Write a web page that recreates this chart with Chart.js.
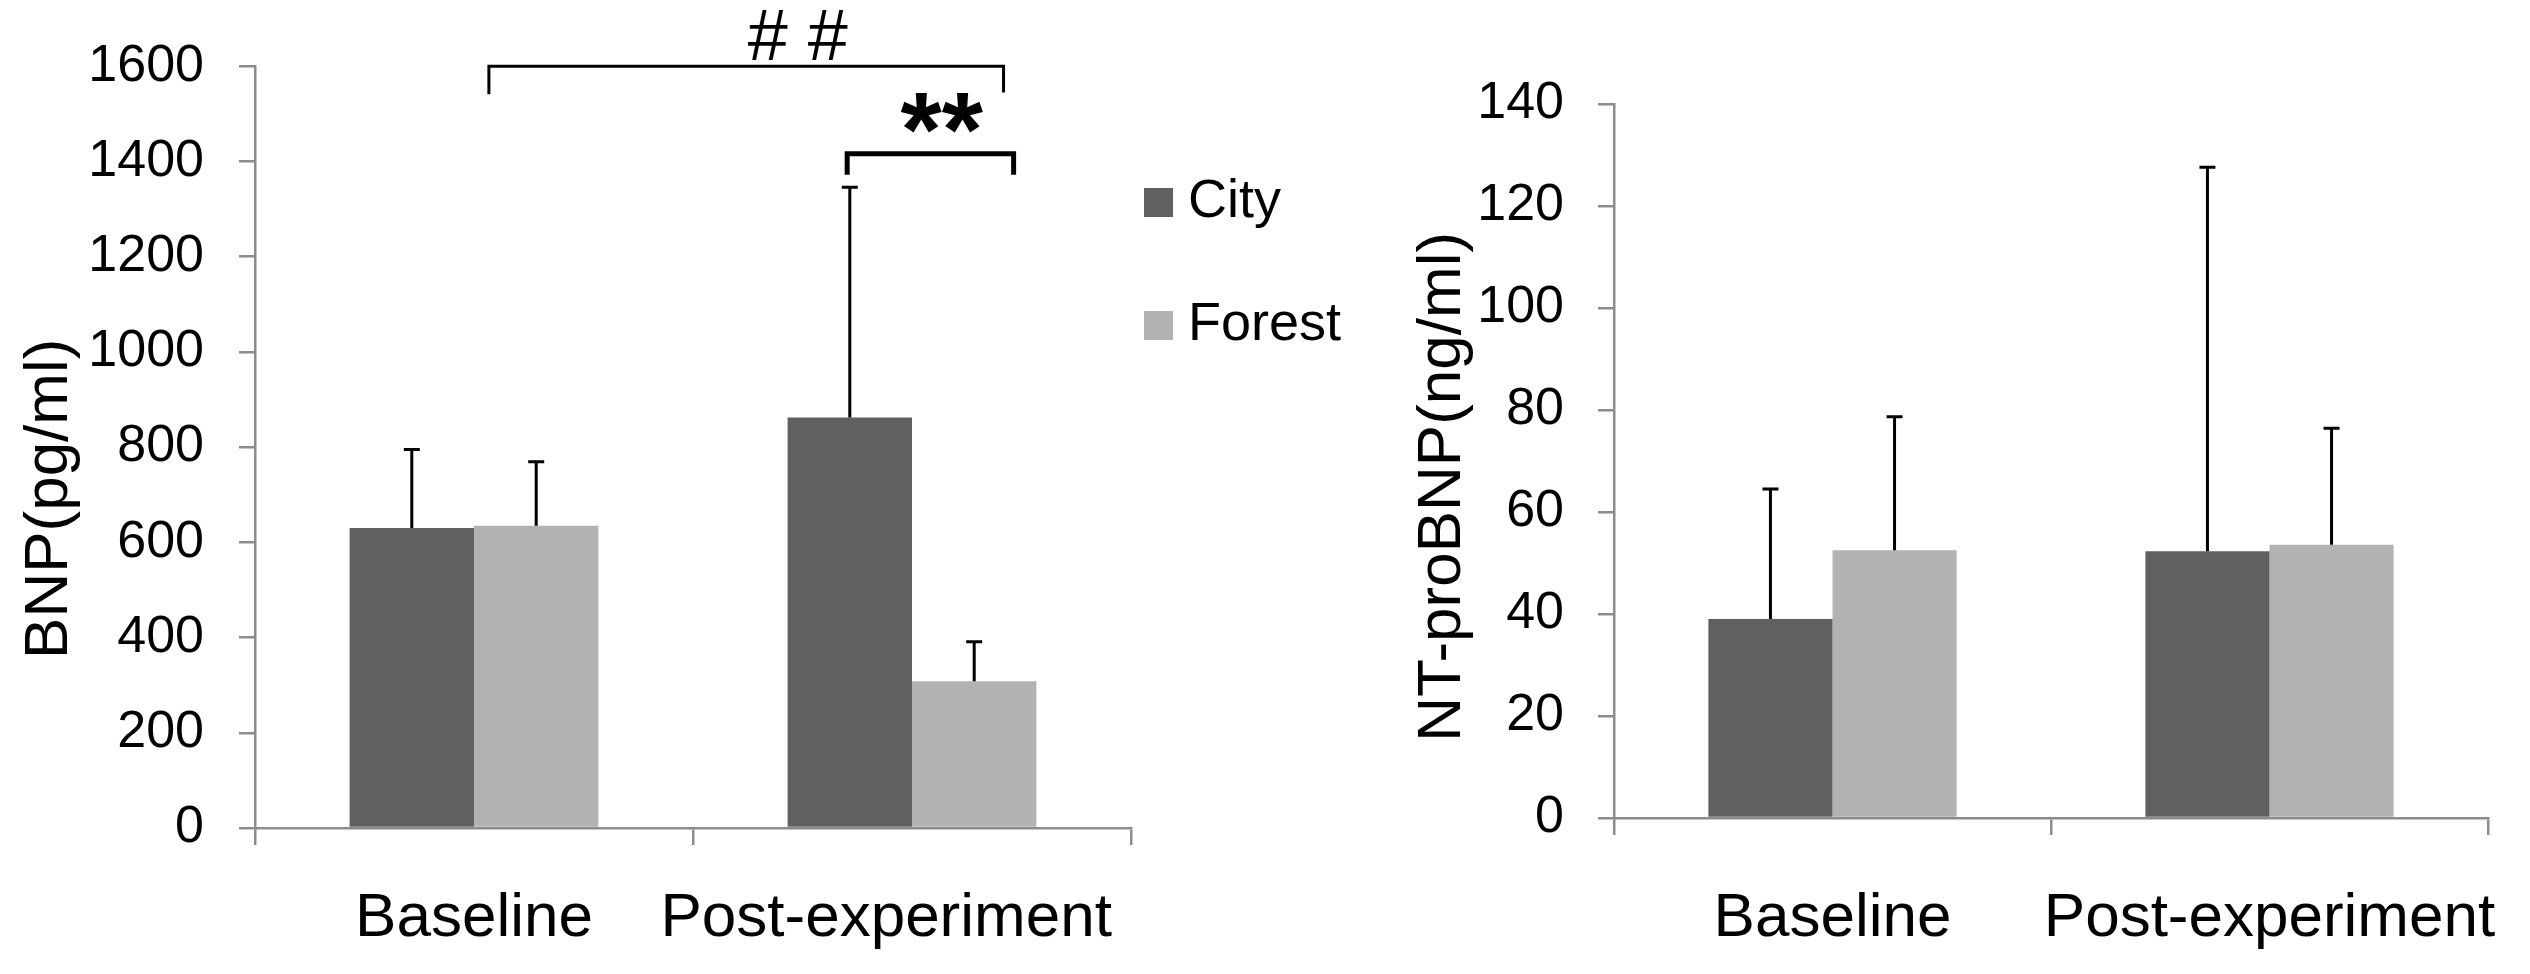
<!DOCTYPE html>
<html>
<head>
<meta charset="utf-8">
<script src="https://cdn.jsdelivr.net/npm/chart.js@4.4.1/dist/chart.umd.min.js"></script>
<style>
  html, body { margin: 0; padding: 0; background: #fff; }
  body { width: 2530px; height: 974px; position: relative; overflow: hidden; }
  .panel { position: absolute; top: 0; height: 974px; }
  #bnpWrap { left: 0; width: 1400px; }
  #ntWrap { left: 1400px; width: 1130px; }
</style>
</head>
<body>
<div class="panel" id="bnpWrap"><canvas id="bnpChart"></canvas></div>
<div class="panel" id="ntWrap"><canvas id="ntChart"></canvas></div>
<script>
// data
const categories = ["Baseline", "Post-experiment"];
const groups = ["City", "Forest"];

const bnpCity = [630, 862];
const bnpForest = [635, 308];
const bnpCityErr = [165, 484];
const bnpForestErr = [134, 83];
const bnpTicks = [0, 200, 400, 600, 800, 1000, 1200, 1400, 1600];

const ntCity = [39.0, 52.3];
const ntForest = [52.5, 53.6];
const ntCityErr = [25.5, 75.3];
const ntForestErr = [26.2, 22.8];
const ntTicks = [0, 20, 40, 60, 80, 100, 120, 140];

const cityColor = "#606060";
const forestColor = "#b2b2b2";
const axisColor = "#8c8c8c";

Chart.defaults.font.family = "'Liberation Sans', Arial, sans-serif";
Chart.defaults.color = "#000";

// vertical error bars with a small cap, drawn from the dataset's errors
const errorBars = {
  id: "errorBars",
  afterDatasetsDraw(chart, args, opts) {
    const ctx = chart.ctx;
    const y = chart.scales.y;
    ctx.save();
    ctx.strokeStyle = "#000";
    ctx.lineWidth = opts.width;
    chart.data.datasets.forEach((ds, i) => {
      chart.getDatasetMeta(i).data.forEach((bar, j) => {
        const top = y.getPixelForValue(ds.data[j] + ds.errors[j]);
        ctx.beginPath();
        ctx.moveTo(bar.x, bar.y);
        ctx.lineTo(bar.x, top);
        ctx.moveTo(bar.x - opts.cap, top);
        ctx.lineTo(bar.x + opts.cap, top);
        ctx.stroke();
      });
    });
    ctx.restore();
  }
};

// significance brackets, placed in axis units
const brackets = {
  id: "brackets",
  afterDraw(chart, args, opts) {
    const { ctx, scales: { x, y } } = chart;
    (opts.items || []).forEach(b => {
      const x1 = x.getPixelForValue(b.from);
      const x2 = x.getPixelForValue(b.to);
      const yb = y.getPixelForValue(b.at);
      ctx.save();
      ctx.strokeStyle = "#000";
      ctx.lineWidth = b.lineWidth;
      ctx.beginPath();
      ctx.moveTo(x1, y.getPixelForValue(b.dropFrom));
      ctx.lineTo(x1, yb);
      ctx.lineTo(x2, yb);
      ctx.lineTo(x2, y.getPixelForValue(b.dropTo));
      ctx.stroke();
      ctx.fillStyle = "#000";
      ctx.font = b.font;
      ctx.textAlign = "center";
      ctx.textBaseline = "alphabetic";
      ctx.fillText(b.text, x.getPixelForValue(b.textAt), y.getPixelForValue(b.textY));
      ctx.restore();
    });
  }
};

// legend to the right of the first panel
const sideLegend = {
  id: "sideLegend",
  afterDraw(chart, args, opts) {
    if (!opts.show) return;
    const ctx = chart.ctx;
    ctx.save();
    chart.data.datasets.forEach((ds, i) => {
      const top = opts.top + i * opts.gap;
      ctx.fillStyle = ds.backgroundColor;
      ctx.fillRect(opts.left, top, opts.box, opts.box);
      ctx.fillStyle = "#000";
      ctx.font = opts.font;
      ctx.textAlign = "left";
      ctx.textBaseline = "middle";
      ctx.fillText(ds.label, opts.left + opts.box + opts.textGap, top + opts.box / 2);
    });
    ctx.restore();
  }
};

function makeChart(id, cfg) {
  return new Chart(document.getElementById(id), {
    type: "bar",
    data: {
      labels: categories,
      datasets: [
        { label: groups[0], data: cfg.city, errors: cfg.cityErr, backgroundColor: cityColor },
        { label: groups[1], data: cfg.forest, errors: cfg.forestErr, backgroundColor: forestColor }
      ]
    },
    plugins: [errorBars, brackets, sideLegend],
    options: {
      responsive: true,
      maintainAspectRatio: false,
      animation: false,
      layout: { padding: cfg.padding },
      datasets: { bar: { categoryPercentage: 0.568, barPercentage: 1.0 } },
      scales: {
        x: {
          grid: { display: true, drawOnChartArea: false, drawTicks: true, tickLength: 17, color: axisColor, lineWidth: 2.5 },
          border: { display: true, color: axisColor, width: 2.5 },
          ticks: {
            font: { size: 62 }, padding: cfg.xTickPad, maxRotation: 0, autoSkip: false,
            // the first panel nudges its last label left, as in the figure
            callback: (v, i) => categories[i] + (i === categories.length - 1 ? " ".repeat(cfg.lastLabelPad) : "")
          },
          afterFit: s => {
            s.height = cfg.xHeight;
            // labels may overhang the plot edges; keep the plot width fixed
            s.paddingLeft = 0;
            s.paddingRight = 0;
          }
        },
        y: {
          min: cfg.ticks[0],
          max: cfg.ticks[cfg.ticks.length - 1],
          afterBuildTicks: s => { s.ticks = cfg.ticks.map(v => ({ value: v })); },
          grid: { display: true, drawOnChartArea: false, drawTicks: true, tickLength: 16, color: axisColor, lineWidth: 2.5 },
          border: { display: true, color: axisColor, width: 2.5 },
          ticks: { font: { size: 52 }, padding: cfg.tickPad, callback: v => String(v) },
          title: { display: true, text: cfg.title, font: { size: 62 }, padding: { top: cfg.titlePad, bottom: 0 } },
          afterFit: s => { s.width = cfg.yWidth; }
        }
      },
      plugins: {
        legend: { display: false },
        tooltip: { enabled: false },
        errorBars: { width: 3, cap: 8 },
        brackets: { items: cfg.brackets },
        sideLegend: cfg.legend
      }
    }
  });
}

makeChart("bnpChart", {
  city: bnpCity, forest: bnpForest, cityErr: bnpCityErr, forestErr: bnpForestErr,
  ticks: bnpTicks,
  title: "BNP(pg/ml)".padEnd(16),
  padding: { top: 64, right: 269, bottom: 0, left: 0 },
  xHeight: 146, yWidth: 255, tickPad: 35, titlePad: 13, lastLabelPad: 3, xTickPad: 37,
  brackets: [
    { from: 0.034, to: 1.209, at: 1600, dropFrom: 1541, dropTo: 1545, lineWidth: 3,
      text: "# #", font: "72px 'Liberation Sans', Arial, sans-serif", textAt: 0.739, textY: 1612 },
    { from: 0.852, to: 1.232, at: 1416, dropFrom: 1372, dropTo: 1372, lineWidth: 5,
      text: "**", font: "bold 106px 'Liberation Sans', Arial, sans-serif", textAt: 1.068, textY: 1390 }
  ],
  legend: { show: true, left: 1144, top: 188, box: 29, gap: 123, textGap: 15,
    font: "54px 'Liberation Sans', Arial, sans-serif" }
});

makeChart("ntChart", {
  city: ntCity, forest: ntForest, cityErr: ntCityErr, forestErr: ntForestErr,
  ticks: ntTicks,
  title: "NT-proBNP(ng/ml)".padEnd(19),
  padding: { top: 104, right: 42, bottom: 0, left: 0 },
  xHeight: 156, yWidth: 214, tickPad: 34, titlePad: 6, lastLabelPad: 0, xTickPad: 47,
  brackets: [],
  legend: { show: false }
});
</script>
</body>
</html>
